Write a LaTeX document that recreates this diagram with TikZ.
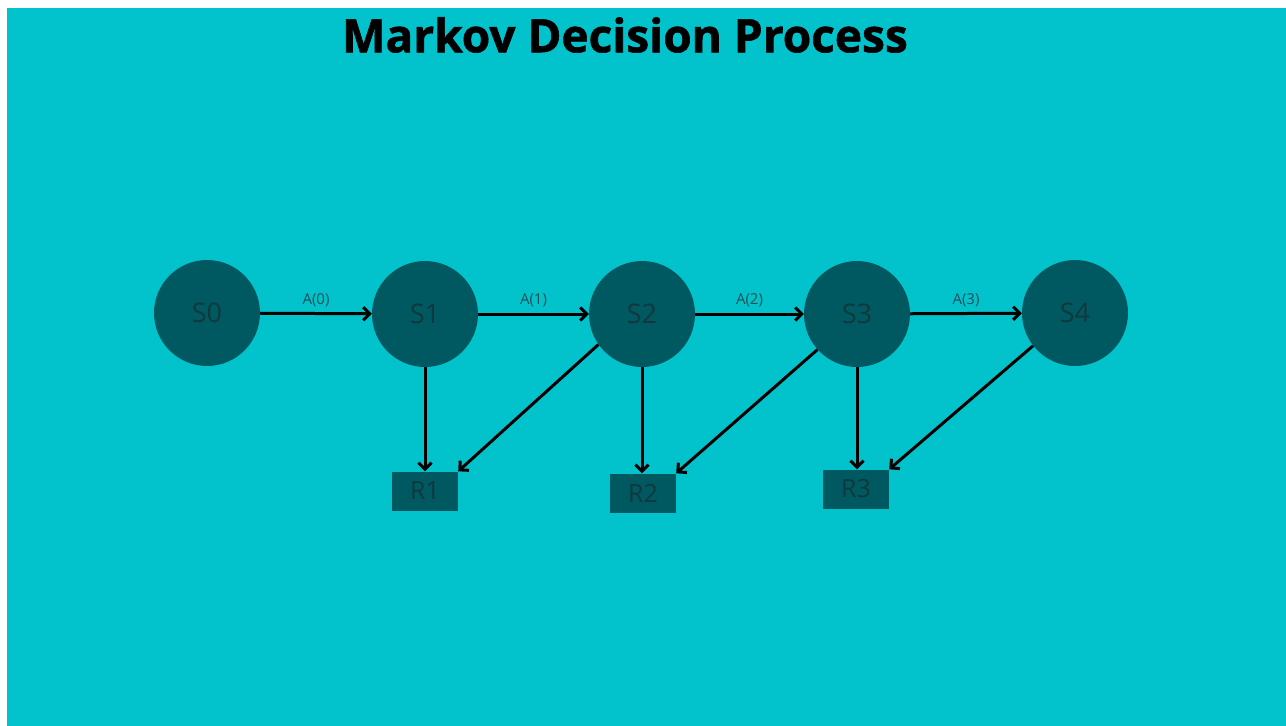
\documentclass[tikz,border=0pt]{standalone}
\usepackage{fontspec}
\setmainfont{Open Sans}
\newfontfamily\titlefont{Open Sans}[BoldFeatures={FakeBold=1.3}]
\usetikzlibrary{arrows.meta}
\definecolor{bgcyan}{HTML}{02C3CC}
\definecolor{statefill}{HTML}{005960}
\definecolor{statetext}{HTML}{10383D}
\definecolor{labeltext}{HTML}{1E4F55}
\begin{document}
\begin{tikzpicture}[x=1pt,y=-1pt,
  state/.style={circle,fill=statefill,minimum size=106pt,inner sep=0pt,
    text=statetext,font=\fontsize{27}{27}\selectfont},
  reward/.style={rectangle,fill=statefill,minimum width=66pt,minimum height=39pt,
    inner sep=0pt,text=statetext,font=\fontsize{25}{25}\selectfont},
  link/.style={line width=3pt,draw=black,-{Straight Barb[length=6.5pt,width=13pt,line width=3pt]}},
  act/.style={text=labeltext,font=\fontsize{15}{15}\selectfont,above=2pt,midway}]
  % page and backdrop
  \useasboundingbox (0,0) rectangle (1286,726);
  \fill[white] (0,0) rectangle (1286,726);
  \fill[bgcyan] (7,8) rectangle (1286,726);
  % title
  \node[font=\titlefont\bfseries\fontsize{46}{46}\selectfont] (title) at (625,35) {Markov Decision Process};
  % states
  \node[state] (s0) at (207,313) {S0};
  \node[state] (s1) at (425,314) {S1};
  \node[state] (s2) at (642,314) {S2};
  \node[state] (s3) at (857,314) {S3};
  \node[state] (s4) at (1075,313) {S4};
  % rewards
  \node[reward] (r1) at (425,491) {R1};
  \node[reward] (r2) at (643,493) {R2};
  \node[reward] (r3) at (856,489) {R3};
  % actions
  \draw[link] (s0) -- node[act] {A(0)} (s1);
  \draw[link] (s1) -- node[act] {A(1)} (s2);
  \draw[link] (s2) -- node[act] {A(2)} (s3);
  \draw[link] (s3) -- node[act] {A(3)} (s4);
  % rewards from states
  \draw[link] (s1.south) -- (s1.south |- r1.north);
  \draw[link] (s2.south) -- (s2.south |- r2.north);
  \draw[link] (s3.south) -- (s3.south |- r3.north);
  \draw[link] (s2.-145) -- (r1.north east);
  \draw[link] (s3.-138) -- (r2.north east);
  \draw[link] (s4.-142) -- (r3.north east);
\end{tikzpicture}
\end{document}
